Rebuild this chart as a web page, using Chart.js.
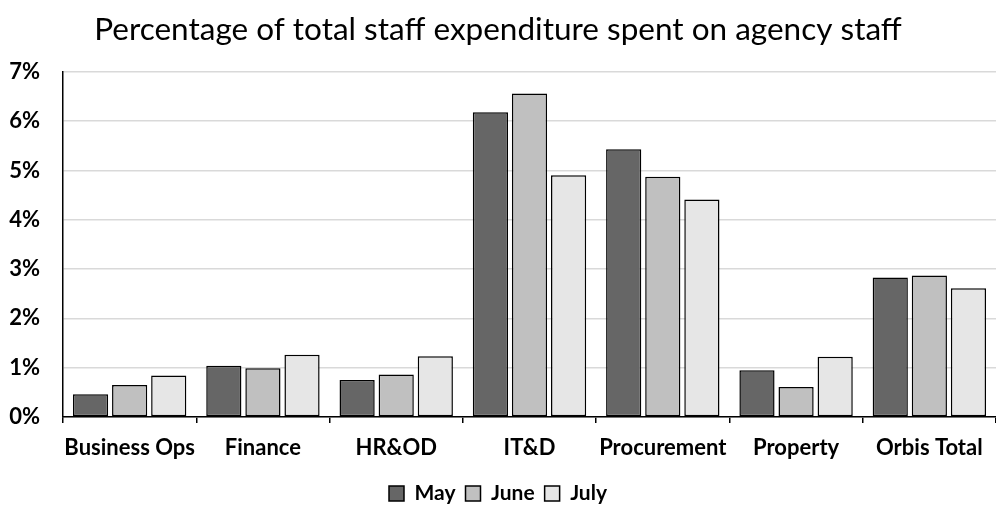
<!DOCTYPE html>
<html>
<head>
<meta charset="utf-8">
<script src="https://cdn.jsdelivr.net/npm/chart.js@4/dist/chart.umd.min.js"></script>
<style>
  html, body { margin: 0; padding: 0; background: #fff; }
  #wrap { width: 996px; height: 514px; position: relative; }
</style>
</head>
<body>
<div id="wrap"><canvas id="chart"></canvas></div>
<script>
const categories = ['Business Ops', 'Finance', 'HR&OD', 'IT&D', 'Procurement', 'Property', 'Orbis Total'];
const may  = [0.46, 1.04, 0.75, 6.18, 5.43, 0.95, 2.83];
const june = [0.65, 0.99, 0.86, 6.56, 4.87, 0.61, 2.87];
const july = [0.84, 1.26, 1.23, 4.90, 4.41, 1.22, 2.61];
const yTicks = [0, 1, 2, 3, 4, 5, 6, 7];

const font = "Lato, 'Open Sans', sans-serif";

function makeSet(label, data, color) {
    return {
        label: label,
        data: data,
        backgroundColor: color,
        borderColor: '#000',
        borderWidth: 1.5,
        borderSkipped: false,
        barPercentage: 0.9,
        categoryPercentage: 0.88
    };
}

const ctx = document.getElementById('chart').getContext('2d');
new Chart(ctx, {
    type: 'bar',
    data: {
        labels: categories,
        datasets: [
            makeSet('May', may, '#666666'),
            makeSet('June', june, '#c0c0c0'),
            makeSet('July', july, '#e6e6e6')
        ]
    },
    options: {
        responsive: true,
        maintainAspectRatio: false,
        animation: false,
        layout: { padding: { left: 0, right: 0, top: 0, bottom: 0 } },
        plugins: {
            title: {
                display: true,
                text: 'Percentage of total staff expenditure spent on agency staff',
                color: '#000',
                font: { family: font, size: 31.5, weight: 'normal' },
                padding: { top: 11, bottom: 23 }
            },
            legend: {
                position: 'bottom',
                labels: {
                    color: '#000',
                    font: { family: font, size: 21, weight: 'bold' },
                    boxWidth: 15,
                    boxHeight: 15,
                    padding: 10
                }
            },
            tooltip: { enabled: false }
        },
        scales: {
            x: {
                grid: {
                    display: true,
                    offset: true,
                    drawOnChartArea: false,
                    drawTicks: true,
                    tickLength: 6,
                    color: '#000',
                    lineWidth: 1.5
                },
                border: { display: true, color: '#000', width: 1.5 },
                ticks: {
                    color: '#000',
                    font: { family: font, size: 22, weight: 'bold' },
                    padding: 12,
                    maxRotation: 0,
                    autoSkip: false
                },
                afterFit: axis => { axis.height = 56; }
            },
            y: {
                min: 0,
                max: 7,
                afterBuildTicks: axis => { axis.ticks = yTicks.map(v => ({ value: v })); },
                grid: {
                    color: '#d9d9d9',
                    lineWidth: 1.5,
                    drawTicks: false
                },
                border: { display: true, color: '#000', width: 1.5 },
                ticks: {
                    color: '#000',
                    font: { family: font, size: 22, weight: 'bold' },
                    padding: 23,
                    callback: v => v + '%'
                },
                afterFit: axis => { axis.width = 63; }
            }
        }
    }
});
</script>
</body>
</html>
